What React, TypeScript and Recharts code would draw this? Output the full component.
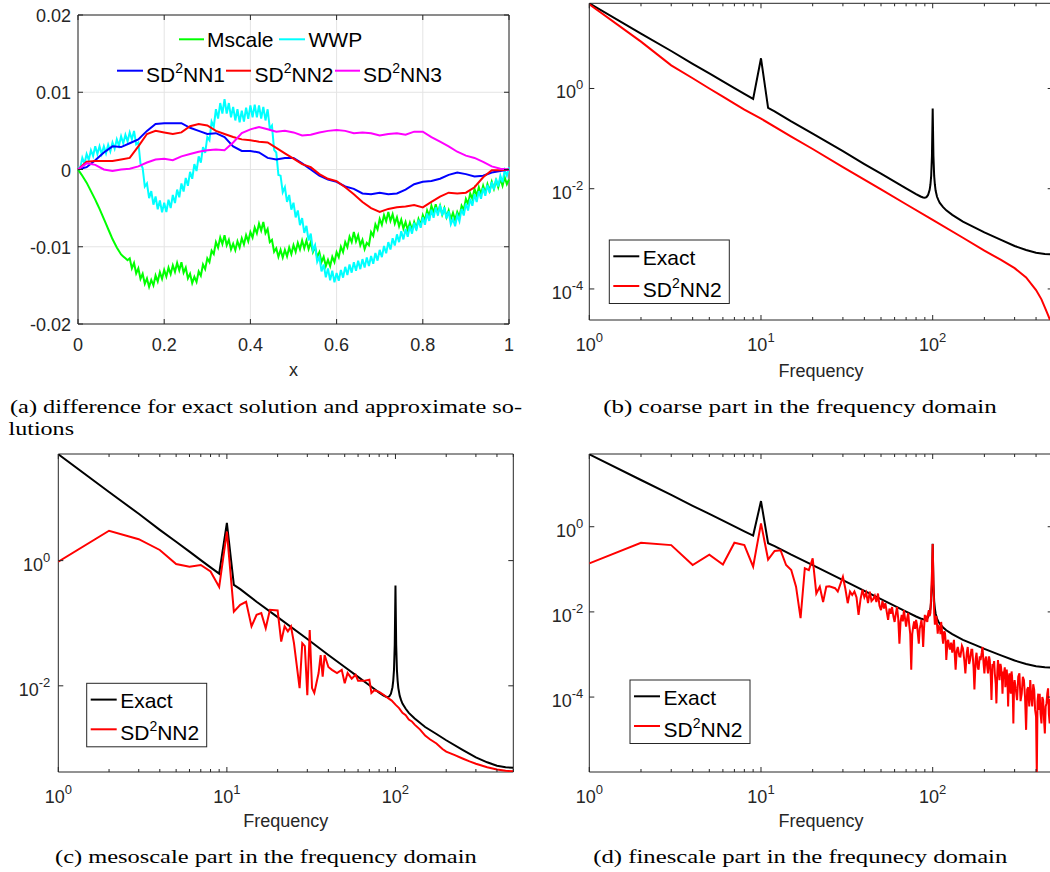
import React from 'react';
import { LineChart, Line, XAxis, YAxis, CartesianGrid, ReferenceArea } from 'recharts';

const AX = '#262626';
const SANS = '"Liberation Sans", Arial, Helvetica, sans-serif';
const SERIF = '"Liberation Serif", "Times New Roman", serif';

// ---------- panel (a): difference, values in units of 1e-3 ----------
const xFine = Array.from({ length: 201 }, (_, i) => i / 200);
const xCoarse = Array.from({ length: 51 }, (_, i) => i / 50);
const aYTicks = [-20, -10, 0, 10, 20];
const aXTicks = [0, 0.2, 0.4, 0.6, 0.8, 1];

const mscale = [0,-0.4,-0.8,-1.25,-1.7,-2.25,-2.8,-3.35,-3.9,-4.5,-5.1,-5.75,-6.4,-7.05,-7.7,-8.35,-9.0,-9.55,-10.1,-10.55,
  -11.0,-11.25,-11.5,-11.75,-11.5,-12.8,-12.1,-13.45,-12.8,-14.15,-13.5,-14.8,-14.1,-15.2,-14.3,-15.0,-13.7,-14.5,-13.3,-14.15,
  -13.0,-13.85,-12.7,-13.55,-12.4,-13.25,-12.1,-13.05,-12.0,-13.35,-12.7,-14.1,-13.5,-14.7,-13.9,-14.55,-13.2,-13.75,-12.3,-12.9,
  -11.5,-12.0,-10.5,-10.95,-9.4,-10.1,-8.8,-9.65,-8.5,-9.8,-9.1,-10.35,-9.6,-10.45,-9.3,-10.1,-8.9,-9.7,-8.5,-9.3,
  -8.1,-8.8,-7.5,-8.25,-7.0,-7.9,-6.8,-8.25,-7.7,-9.4,-9.1,-10.65,-10.2,-11.3,-10.4,-11.4,-10.4,-11.25,-10.1,-10.95,
  -9.8,-10.65,-9.5,-10.35,-9.2,-10.2,-9.2,-10.3,-9.4,-10.7,-10.0,-11.35,-10.7,-12.0,-11.3,-12.5,-11.7,-12.5,-11.3,-12.0,
  -10.7,-11.35,-10.0,-10.7,-9.4,-10.05,-8.7,-9.4,-8.1,-9.3,-8.5,-9.8,-9.1,-10.3,-9.5,-9.8,-8.1,-8.6,-7.1,-7.75,
  -6.4,-7.15,-5.9,-6.7,-5.5,-6.65,-5.8,-7.0,-6.2,-7.35,-6.5,-7.65,-6.8,-7.85,-6.9,-7.85,-6.8,-7.6,-6.4,-7.15,
  -5.9,-6.6,-5.3,-6.0,-4.7,-5.6,-4.5,-5.6,-4.7,-5.85,-5.0,-6.15,-5.3,-6.45,-5.6,-6.55,-5.5,-6.1,-4.7,-5.25,
  -3.8,-4.45,-3.1,-3.8,-2.5,-3.4,-2.3,-3.2,-2.1,-3.0,-1.9,-2.75,-1.6,-2.5,-1.4,-2.3,-1.2,-2.1,-1.0,-1.9,-1.3];
const wwp = [0.3,0.15,1.5,0.75,2.0,1.25,2.5,1.75,3.0,2.0,3.0,2.0,3.0,2.1,3.2,2.35,3.5,2.7,3.9,3.1,
  4.3,3.4,4.5,3.65,4.8,3.9,5.0,3.25,3.5,0.75,0.2,-2.2,-1.8,-3.7,-2.8,-4.55,-3.5,-5.15,-4.0,-5.55,
  -4.3,-5.5,-3.9,-5.0,-3.3,-4.35,-2.6,-3.6,-1.8,-2.85,-1.1,-2.1,-0.3,-1.2,0.7,-0.2,1.7,0.9,2.9,2.15,
  4.2,3.8,6.2,5.55,7.8,6.6,8.6,7.25,9.1,7.25,8.6,6.75,8.1,6.35,7.8,6.1,7.6,6.2,8.0,6.55,
  8.3,6.75,8.4,6.75,8.3,6.6,8.1,6.35,7.8,5.3,5.7,2.55,2.2,-0.7,-0.8,-2.95,-2.3,-4.2,-3.3,-5.2,
  -4.3,-6.2,-5.3,-7.2,-6.3,-8.2,-7.3,-9.2,-8.3,-10.45,-9.8,-11.95,-11.3,-13.2,-12.3,-13.95,-12.8,-14.35,-13.1,-14.6,
  -13.4,-14.4,-13.0,-14.0,-12.6,-13.65,-12.3,-13.35,-12.0,-13.1,-11.8,-12.9,-11.6,-12.7,-11.4,-12.5,-11.2,-12.2,-10.8,-11.8,
  -10.4,-11.35,-9.9,-10.85,-9.4,-10.35,-8.9,-9.85,-8.4,-9.4,-8.0,-9.05,-7.7,-8.7,-7.3,-8.3,-6.9,-7.9,-6.5,-7.55,
  -6.2,-7.15,-5.7,-6.65,-5.2,-6.25,-4.9,-5.95,-4.6,-5.95,-4.9,-6.35,-5.4,-7.1,-6.4,-7.35,-5.9,-6.7,-5.1,-5.95,
  -4.4,-5.3,-3.8,-4.7,-3.2,-4.2,-2.8,-3.8,-2.4,-3.4,-2.0,-3.0,-1.6,-2.6,-1.2,-2.2,-0.8,-1.65,-0.1,-0.8,0.3];
const sd2nn1 = [0,0.3,1.2,2.2,3.0,2.9,3.4,3.9,5.0,5.9,6.0,6.0,6.0,5.4,5.0,4.6,4.7,4.2,3.0,2.4,2.4,2.2,1.5,1.3,1.5,
  1.5,0.8,0.0,-0.8,-1.3,-1.6,-2.2,-2.5,-3.1,-3.2,-3.0,-3.2,-3.1,-2.6,-1.9,-1.6,-1.5,-1.2,-0.7,-0.4,-0.6,-0.9,-0.8,-0.4,-0.2,0];
const sd2nn2 = [0,1.0,1.1,1.1,1.1,1.3,1.5,3.0,4.6,5.0,4.8,4.6,4.8,5.6,5.9,5.7,5.0,4.6,4.2,3.9,3.8,3.6,3.5,2.8,2.1,
  1.4,0.7,0.3,-0.6,-1.2,-1.5,-2.3,-3.2,-4.2,-5.0,-5.5,-5.1,-4.9,-4.8,-4.6,-4.9,-4.2,-3.5,-3.0,-3.1,-3.0,-2.3,-1.0,-0.1,-0.1,0];
const sd2nn3 = [0,0.8,0.6,0.0,-0.2,0.0,0.1,0.4,0.9,1.3,1.4,1.2,1.7,2.0,2.3,2.5,2.6,2.5,3.5,4.7,5.2,5.5,5.2,4.9,5.0,
  4.8,4.4,4.5,4.8,5.0,5.1,5.0,4.7,4.8,4.7,4.4,4.6,4.7,4.5,4.9,4.9,4.2,3.6,3.0,2.3,1.8,1.5,1.0,0.4,0.1,0];

// ---------- frequency panels ----------
const majorFreq = [1, 10, 100];
const minorFreq = [2,3,4,5,6,7,8,9,20,30,40,50,60,70,80,90,200,300,400,500];
const freqTicks = [...majorFreq, ...minorFreq].sort((a, b) => a - b);

const exact: [number, number][] = [[1,50],[2,12.5],[3,5.6],[4,3.1],[5,2.0],[6,1.39],[7,1.02],[8,0.78],[9,0.62],[10,4.0],
  [11,0.41],[12,0.35],[15,0.22],[20,0.125],[30,0.056],[40,0.031],[50,0.020],[60,0.0139],[70,0.0102],[80,0.0078],
  [85,0.0070],[88,0.0067],[90,0.0066],[92,0.0068],[94,0.0075],[96,0.0095],[97,0.012],[98,0.018],[99,0.045],[100,0.4],
  [101,0.045],[102,0.018],[103,0.012],[104,0.0092],[106,0.0069],[108,0.0059],[110,0.0052],[115,0.0043],[120,0.0037],
  [130,0.0030],[150,0.0022],[175,0.0017],[200,0.00135],[250,0.00095],[300,0.00072],[350,0.00060],[400,0.00053],
  [450,0.00050],[500,0.00049]];

const coarseNN2: [number, number][] = [[1,48],[2,8.6],[3,2.9],[4,1.6],[5,1.0],[6,0.69],[7,0.50],[8,0.38],[10,0.25],
  [15,0.11],[20,0.062],[30,0.027],[50,0.0097],[70,0.0049],[100,0.0024],[150,0.00105],[200,0.00058],[250,0.00038],
  [300,0.00026],[350,0.00017],[400,0.000095],[430,0.000062],[450,0.000043],[470,0.00003],[490,0.000021],[500,0.000017]];

const mesoNN2: [number, number][] = [[1,0.96],[2,3.0],[3,2.2],[4,1.48],[5,0.88],[6,0.80],[7,0.85],[8,0.67],[9,0.38],[10,2.9],
  [11,0.153],[12,0.196],[13,0.22],[14,0.089],[15,0.136],[16,0.145],[17,0.083],[18,0.164],[20,0.16],[21,0.051],[22,0.089],
  [23,0.074],[24,0.089],[25,0.048],[27,0.0092],[28,0.048],[29,0.043],[30,0.0071],[31,0.078],[32,0.0092],[33,0.0077],
  [35,0.016],[36,0.031],[37,0.014],[38,0.031],[40,0.020],[42,0.018],[45,0.016],[48,0.018],[50,0.011],[52,0.016],[55,0.013],
  [58,0.015],[60,0.012],[65,0.012],[70,0.0125],[72,0.0077],[75,0.0085],[80,0.0080],[85,0.0072],[90,0.0064],[95,0.0058],
  [100,0.0050],[105,0.0044],[110,0.0037],[115,0.0034],[120,0.0029],[125,0.0027],[130,0.0024],[140,0.0020],[150,0.0016],
  [160,0.0014],[175,0.0012],[190,0.00098],[200,0.00089],[225,0.00078],[250,0.00069],[275,0.00062],[300,0.00057],
  [350,0.00050],[400,0.00046],[450,0.00044],[500,0.00043]];

const fineNN2: [number, number][] = [[1,0.138],[2,0.42],[3,0.37],[4,0.126],[5,0.22],[6,0.13],[7,0.42],[8,0.37],[9,0.115],
  [10,1.2],[11,0.17],[12,0.27],[13,0.28],[14,0.126],[15,0.096],[16,0.039],[17,0.0071],[18,0.106],[19,0.096],[20,0.18],
  [21,0.027],[22,0.039],[23,0.017],[24,0.039],[25,0.040],[26,0.038],[27,0.036],[28,0.030],[29,0.045],[30,0.067],
  [31,0.035],[32,0.016],[33,0.03],[34,0.025],[35,0.030],[36,0.022],[37,0.0085],[38,0.02],[39,0.033],[40,0.022],
  [41,0.028],[42,0.016],[43,0.030],[44,0.018],[45,0.020],[46,0.024],[47,0.017],[48,0.027],[49,0.014],[50,0.011],
  [51,0.018],[52,0.012],[53,0.016],[54,0.010],[55,0.0065],[56,0.012],[57,0.009],[58,0.013],[59,0.008],[60,0.0058],
  [61,0.009],[62,0.013],[63,0.007],[64,0.0018],[65,0.006],[66,0.0085],[67,0.006],[68,0.011],[69,0.007],[70,0.0045],
  [71,0.007],[72,0.0095],[73,0.005],[74,0.003],[75,0.00044],[76,0.003],[77,0.0045],[78,0.006],[79,0.004],[80,0.0065],
  [81,0.005],[82,0.003],[83,0.0018],[84,0.004],[85,0.005],[86,0.0065],[87,0.004],[88,0.0015],[89,0.004],[90,0.0085],
  [91,0.006],[92,0.007],[93,0.0058],[94,0.009],[95,0.011],[96,0.008],[97,0.0095],[98,0.027],[99,0.081],[100,0.39],
  [101,0.055],[102,0.0095],[103,0.005],[104,0.007],[105,0.008],[106,0.005],[107,0.0031],[108,0.005],[109,0.004],[110,0.0045],
  [111,0.003],[112,0.0058],[113,0.004],[114,0.0025],[115,0.0018],[116,0.003],[117,0.0035],[118,0.0031],[119,0.002],[120,0.00074],
  [122,0.002],[123,0.0022],[125,0.0015],[126,0.0013],[128,0.0019],[130,0.0011],[133,0.0022],[136,0.00044],[138,0.0012],[140,0.0015],
  [143,0.0009],[145,0.00089],[148,0.0016],[150,0.0014],[153,0.0007],[155,0.00036],[158,0.0011],[160,0.0015],[163,0.0006],[165,0.00074],
  [168,0.0013],[170,0.0013],[173,0.0005],[175,0.00015],[178,0.0008],[180,0.0011],[183,0.0005],[185,0.00044],[188,0.0009],[190,0.00074],
  [193,0.0011],[195,0.0015],[198,0.0006],[200,0.00036],[203,0.0008],[205,0.00089],[208,0.0005],[210,0.00036],[213,0.0009],[215,0.00074],
  [218,0.0003],[220,0.000085],[223,0.0006],[225,0.00051],[228,0.0007],[230,0.00036],[233,0.0002],[235,0.000071],[238,0.0004],[240,0.00074],
  [243,0.0004],[245,0.00025],[248,0.0006],[250,0.00051],[253,0.0003],[255,0.00012],[258,0.0004],[260,0.00036],[263,0.0005],[265,0.00017],
  [268,0.0003],[270,0.00044],[273,0.0002],[275,0.00006],[278,0.0003],[280,0.00036],[283,0.00015],[285,0.00012],[288,0.0004],[290,0.0003],
  [293,0.0001],[295,0.000024],[298,0.0002],[300,0.00025],[305,0.00015],[310,0.000085],[315,0.0003],[320,0.00036],[325,0.00008],[330,0.00012],
  [335,0.0003],[340,0.00025],[345,0.0001],[350,0.000017],[355,0.00015],[360,0.00017],[365,0.00006],[370,0.00025],[375,0.0001],[380,0.00006],
  [385,0.0002],[390,0.00015],[395,0.00005],[400,0.000035],[404,0.0000015],[408,0.00008],[412,0.00012],[416,0.00005],[420,0.00012],[425,0.00004],
  [430,0.000024],[435,0.0001],[440,0.000085],[445,0.00003],[450,0.000014],[455,0.00006],[460,0.000071],[465,0.00012],[470,0.00016],[475,0.00004],
  [480,0.000024],[485,0.00009],[490,0.00006],[495,0.00003],[500,0.0001]];

const ptsA = (xs: number[], vs: number[]) => xs.map((x, i) => ({ x, v: vs[i] }));
const ptsF = (arr: [number, number][]) => arr.map(([k, v]) => ({ k, v }));

// ---------- tick renderers ----------
const linXTick = (plotH: number) => (p: any) => {
  const { x, y, payload } = p;
  return (
    <g>
      <line x1={x} x2={x} y1={y} y2={y - 5} stroke={AX} />
      <line x1={x} x2={x} y1={y - plotH} y2={y - plotH + 5} stroke={AX} />
      <text x={x} y={y + 27} textAnchor="middle" fontFamily={SANS} fontSize={18} fill={AX}>{String(payload.value)}</text>
    </g>
  );
};
const linYTick = (plotW: number) => (p: any) => {
  const { x, y, payload } = p;
  const label = String(payload.value / 1000);
  return (
    <g>
      <line x1={x} x2={x + 5} y1={y} y2={y} stroke={AX} />
      <line x1={x + plotW} x2={x + plotW - 5} y1={y} y2={y} stroke={AX} />
      <text x={x - 7} y={y + 7} textAnchor="end" fontFamily={SANS} fontSize={18} fill={AX}>{label}</text>
    </g>
  );
};
const logXTick = (plotH: number) => (p: any) => {
  const { x, y, payload } = p;
  const v = payload.value;
  const isMajor = majorFreq.includes(v);
  const len = isMajor ? 5 : 3;
  return (
    <g>
      <line x1={x} x2={x} y1={y} y2={y - len} stroke={AX} />
      <line x1={x} x2={x} y1={y - plotH} y2={y - plotH + len} stroke={AX} />
      {isMajor && (
        <text x={x} y={y + 31} textAnchor="middle" fontFamily={SANS} fontSize={18} fill={AX}>
          <tspan>10</tspan>
          <tspan dy={-9} fontSize={13}>{String(Math.round(Math.log10(v)))}</tspan>
        </text>
      )}
    </g>
  );
};
const logYTick = (plotW: number, gap: number) => (p: any) => {
  const { x, y, payload } = p;
  const e = Math.round(Math.log10(payload.value));
  return (
    <g>
      <line x1={x} x2={x + 5} y1={y} y2={y} stroke={AX} />
      <line x1={x + plotW} x2={x + plotW - 5} y1={y} y2={y} stroke={AX} />
      <text x={x - gap} y={y + 10} textAnchor="end" fontFamily={SANS} fontSize={18} fill={AX}>
        <tspan>10</tspan>
        <tspan dy={-9} fontSize={13}>{String(e)}</tspan>
      </text>
    </g>
  );
};

type FreqPanelProps = {
  left: number; top: number; width: number; height: number;
  margin: { top: number; right: number; bottom: number; left: number };
  yDomain: [number, number]; yTicks: number[]; red: [number, number][]; gap: number;
};

// axis strips are 1px wide; margins are chosen so that the plot area matches the reference
function FreqPanel({ left, top, width, height, margin, yDomain, yTicks, red, gap }: FreqPanelProps) {
  const plotW = width - margin.left - margin.right - 1;
  const plotH = height - margin.top - margin.bottom - 1;
  return (
    <div style={{ position: 'absolute', left, top }}>
      <LineChart width={width} height={height} margin={margin}>
        <XAxis dataKey="k" type="number" scale="log" domain={[1, 500]} allowDataOverflow ticks={freqTicks}
          interval={0} height={1} tickSize={0} tickMargin={0} tickLine={false} axisLine={false} tick={logXTick(plotH)} />
        <YAxis type="number" scale="log" domain={yDomain} allowDataOverflow ticks={yTicks} interval={0}
          width={1} tickSize={0} tickMargin={0} tickLine={false} axisLine={false} tick={logYTick(plotW, gap)} />
        <ReferenceArea x1={1} x2={500} y1={yDomain[0]} y2={yDomain[1]} fill="none" stroke={AX} strokeWidth={1} ifOverflow="visible" />
        <Line data={ptsF(exact)} dataKey="v" stroke="#000000" strokeWidth={2} dot={false} activeDot={false} isAnimationActive={false} type="linear" />
        <Line data={ptsF(red)} dataKey="v" stroke="#ff0000" strokeWidth={2} dot={false} activeDot={false} isAnimationActive={false} type="linear" />
      </LineChart>
    </div>
  );
}

function SupLabel({ x, y, pre, sup, post, size }: { x: number; y: number; pre: string; sup: string; post: string; size: number }) {
  return (
    <text x={x} y={y} fontFamily={SANS} fontSize={size} fill="#000">
      <tspan>{pre}</tspan>
      <tspan dy={-9} fontSize={14}>{sup}</tspan>
      <tspan dy={9}>{post}</tspan>
    </text>
  );
}

function FreqLegend({ x, y }: { x: number; y: number }) {
  return (
    <g>
      <rect x={x} y={y} width={120} height={63.5} fill="#ffffff" stroke={AX} strokeWidth={1} />
      <line x1={x + 4} x2={x + 30} y1={y + 16.3} y2={y + 16.3} stroke="#000" strokeWidth={2} />
      <text x={x + 33.5} y={y + 25} fontFamily={SANS} fontSize={21} fill="#000">Exact</text>
      <line x1={x + 4} x2={x + 30} y1={y + 46} y2={y + 46} stroke="#ff0000" strokeWidth={2} />
      <SupLabel x={x + 33.5} y={y + 56.5} pre="SD" sup="2" post="NN2" size={21} />
    </g>
  );
}

export default function App() {
  const aMargin = { top: 15, right: 21, bottom: 65, left: 77 };
  const aW = 530, aH = 390;
  const aPlotW = aW - aMargin.left - aMargin.right - 1;
  const aPlotH = aH - aMargin.top - aMargin.bottom - 1;
  const lineProps = { dot: false, activeDot: false, isAnimationActive: false, strokeWidth: 2, type: 'linear' as const, dataKey: 'v' };

  return (
    <div style={{ position: 'fixed', left: 0, top: 0, width: 1050, height: 872, overflow: 'hidden', background: '#ffffff' }}>
      {/* panel (a) */}
      <div style={{ position: 'absolute', left: 0, top: 0 }}>
        <LineChart width={aW} height={aH} margin={aMargin}>
          <CartesianGrid stroke="#e4e4e4" strokeWidth={1} />
          <XAxis dataKey="x" type="number" domain={[0, 1]} ticks={aXTicks} interval={0} height={1}
            tickSize={0} tickMargin={0} tickLine={false} axisLine={false} tick={linXTick(aPlotH)} />
          <YAxis type="number" domain={[-20, 20]} ticks={aYTicks} interval={0} width={1}
            tickSize={0} tickMargin={0} tickLine={false} axisLine={false} tick={linYTick(aPlotW)} />
          <ReferenceArea x1={0} x2={1} y1={-20} y2={20} fill="none" stroke={AX} strokeWidth={1} ifOverflow="visible" />
          <Line {...lineProps} data={ptsA(xFine, mscale)} stroke="#00ff00" />
          <Line {...lineProps} data={ptsA(xFine, wwp)} stroke="#00ffff" />
          <Line {...lineProps} data={ptsA(xCoarse, sd2nn1)} stroke="#0000ff" />
          <Line {...lineProps} data={ptsA(xCoarse, sd2nn2)} stroke="#ff0000" />
          <Line {...lineProps} data={ptsA(xCoarse, sd2nn3)} stroke="#ff00ff" />
        </LineChart>
      </div>

      {/* panel (b) */}
      <FreqPanel left={530} top={0} width={540} height={390}
        margin={{ top: 3.3, right: 17.3, bottom: 69, left: 58.3 }}
        yDomain={[2.4e-5, 50.1]} yTicks={[1e-4, 1e-2, 1]} red={coarseNN2} gap={6} />
      {/* panel (c) */}
      <FreqPanel left={0} top={440} width={530} height={432}
        margin={{ top: 14, right: 16.7, bottom: 99, left: 57.3 }}
        yDomain={[4.2e-4, 50.5]} yTicks={[1e-2, 1]} red={mesoNN2} gap={8} />
      {/* panel (d) */}
      <FreqPanel left={530} top={440} width={540} height={432}
        margin={{ top: 14, right: 17.3, bottom: 99, left: 58.3 }}
        yDomain={[1.74e-6, 51]} yTicks={[1e-4, 1e-2, 1]} red={fineNN2} gap={6} />

      {/* overlay: legends, axis labels, captions */}
      <svg width={1050} height={872} style={{ position: 'absolute', left: 0, top: 0, pointerEvents: 'none' }}>
        {/* panel a legend */}
        <line x1={179} x2={204} y1={39.3} y2={39.3} stroke="#00ff00" strokeWidth={2} />
        <text x={207} y={46.7} fontFamily={SANS} fontSize={21} fill="#000">Mscale</text>
        <line x1={279} x2={305} y1={39.3} y2={39.3} stroke="#00ffff" strokeWidth={2} />
        <text x={308.5} y={46.7} fontFamily={SANS} fontSize={21} fill="#000">WWP</text>
        <line x1={117} x2={143} y1={70.7} y2={70.7} stroke="#0000ff" strokeWidth={2} />
        <SupLabel x={146} y={81.7} pre="SD" sup="2" post="NN1" size={21} />
        <line x1={226} x2={251} y1={70.7} y2={70.7} stroke="#ff0000" strokeWidth={2} />
        <SupLabel x={254.5} y={81.7} pre="SD" sup="2" post="NN2" size={21} />
        <line x1={335} x2={360} y1={70.7} y2={70.7} stroke="#ff00ff" strokeWidth={2} />
        <SupLabel x={363} y={81.7} pre="SD" sup="2" post="NN3" size={21} />

        <FreqLegend x={609.3} y={240} />
        <FreqLegend x={86.7} y={683.3} />
        <FreqLegend x={630} y={680} />

        <text x={293.5} y={376} textAnchor="middle" fontFamily={SANS} fontSize={18} fill={AX}>x</text>
        <text x={821} y={377} textAnchor="middle" fontFamily={SANS} fontSize={18} fill={AX}>Frequency</text>
        <text x={285.8} y={827} textAnchor="middle" fontFamily={SANS} fontSize={18} fill={AX}>Frequency</text>
        <text x={821} y={827} textAnchor="middle" fontFamily={SANS} fontSize={18} fill={AX}>Frequency</text>

        <text x={10} y={412.7} fontFamily={SERIF} fontSize={19} fill="#000" textLength={512} lengthAdjust="spacingAndGlyphs">(a) difference for exact solution and approximate so-</text>
        <text x={8.5} y={435} fontFamily={SERIF} fontSize={19} fill="#000" textLength={65.5} lengthAdjust="spacingAndGlyphs">lutions</text>
        <text x={603.3} y={412.7} fontFamily={SERIF} fontSize={19} fill="#000" textLength={393.4} lengthAdjust="spacingAndGlyphs">(b) coarse part in the frequency domain</text>
        <text x={55} y={863} fontFamily={SERIF} fontSize={19} fill="#000" textLength={421.7} lengthAdjust="spacingAndGlyphs">(c) mesoscale part in the frequency domain</text>
        <text x={593.3} y={863} fontFamily={SERIF} fontSize={19} fill="#000" textLength={414} lengthAdjust="spacingAndGlyphs">(d) finescale part in the frequnecy domain</text>
      </svg>
    </div>
  );
}
